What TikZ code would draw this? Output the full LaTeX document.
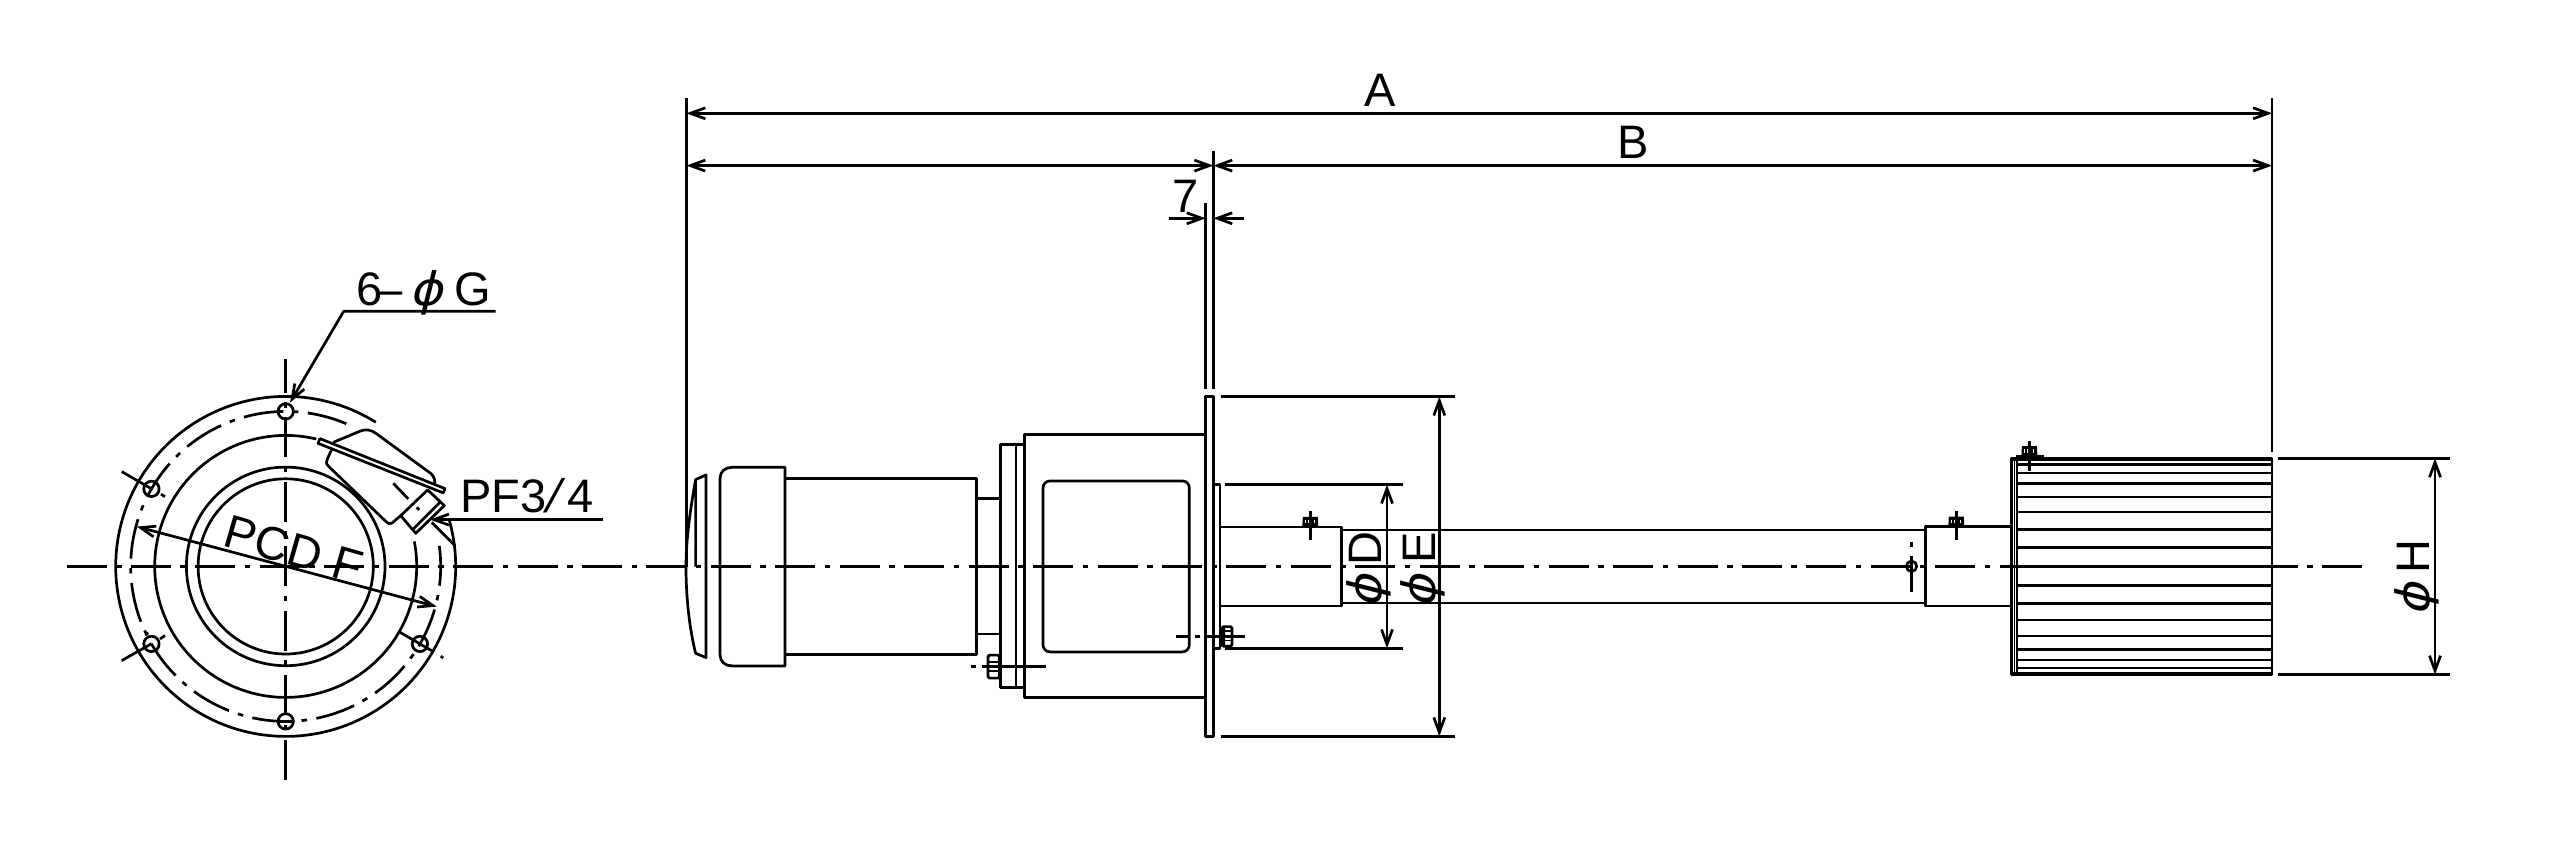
\documentclass[tikz,border=0pt]{standalone}
\usepackage{fontspec}
\usepackage{graphicx}
\setmainfont{Liberation Sans}
\newfontfamily\phifont[FakeSlant=0.25,FakeStretch=1.1]{DejaVu Sans}
\newfontfamily\slashfont[FakeSlant=0.27]{Liberation Sans}
\usetikzlibrary{arrows.meta}
\newcommand{\dia}{{\phifont\fontsize{46bp}{50bp}\selectfont ϕ}}
\newcommand{\arcplot}[3]{plot[domain=#2:#3,samples=240] ({285.7+#1*cos(\x)},{565.8-#1*sin(\x)})}
\newcommand{\knurl}[2]{%
  \fill (#1-8,#2) -- (#1-7.5,#2-10) -- (#1+7.5,#2-10) -- (#1+8,#2) -- cycle;
  \foreach \d in {-4.5,-1.5,1.5,4.5} \draw[white,line width=0.9bp] (#1+\d,#2-7) -- (#1+\d,#2-3.5);
}
\tikzset{
  lbl/.style={inner sep=0pt,font=\fontsize{47bp}{50bp}\selectfont},
  thick line/.style={line width=3.8bp},
  center line/.style={line width=2.7bp,dash pattern=on 40bp off 9.5bp on 5.5bp off 9.44bp},
  dim/.style={line width=2.7bp,<->},
  lead/.style={line width=2.7bp,->}
}
\begin{document}
\begin{tikzpicture}[x=1bp,y=-1bp,line width=2.7bp,line join=round,>={Straight Barb[length=15bp,width=11bp]}]
\useasboundingbox (0,-0.6) rectangle (2550,849.4);
% ---- coordinates
\coordinate (c) at (285.7,565.8);
% ---- centre lines
\draw[center line] (66.5,565.8) -- (2363,565.8);
\draw[center line] (285.7,779) -- (285.7,358);
% ---- front view
\draw \arcplot{170}{16}{-302};
\draw \arcplot{131}{11}{-283.5};
\draw (c) circle[radius=99.3bp];
\draw (c) circle[radius=87.6bp];
\draw[center line] \arcplot{155}{67}{368};
% holes
\foreach \a in {90,150,210,270,330}
  \draw ({285.7+155*cos(\a)},{565.8-155*sin(\a)}) circle[radius=7.7bp];
\draw (278,720.7) -- (293.4,720.7);
\draw (121.7,471) -- (151.7,488.3);
\draw (161,493.6) -- (165,496);
\draw (121.7,660) -- (151.7,643);
\draw (160,638.3) -- (165,635);
\draw (146,631.5) -- (148,634);
\draw (400,631.7) -- (433.3,651);
\draw (440.7,655.7) -- (443.3,657.3);
% plug
\draw (320,438) -- (445,488) -- (443.3,492.3) -- (318,442.7) -- cycle;
\draw (333.3,441.7) -- (359,431) .. controls (366,428) and (371,429) .. (376.7,433.3) -- (431,473) .. controls (434,476) and (435,479) .. (435,482.7);
\draw (331.7,449) -- (327.5,458) .. controls (326,461) and (326,463) .. (328.3,465.5) -- (385,520) .. controls (388,523) and (390,524) .. (392,522.5) -- (400.7,515);
\draw (400.7,515) -- (427.7,489.3) -- (444.3,505) -- (415.7,532.7) -- cycle;
\draw (413.3,528.3) -- (440,501.7);
\draw (393.3,482.7) -- (408.3,498.3);
\draw (416.7,506.7) -- (419.3,509.3);
\draw (431.7,521.7) -- (455,545);
% leaders and front-view labels
\coordinate (g1) at (495.5,310.7);
\coordinate (g2) at (343.7,310.7);
\coordinate (g3) at (290,402);
\draw[lead] (g1) -- (g2) -- (g3);
\node[lbl,anchor=base west] (lblG) at (355.5,305) {6\kern-2bp\scalebox{.85}[1]{–}\kern6bp\dia\kern12bp G};
\coordinate (p1) at (602.7,519);
\coordinate (p2) at (430,519);
\draw[lead] (p1) -- (p2);
\node[lbl,anchor=base west] (lblPF) at (459,511.7) {PF3\kern-3bp{\slashfont/}\kern11bp 4};
\coordinate (f1) at (136.7,526);
\coordinate (f2) at (436.7,606);
\draw[dim] (f1) -- (f2);
\node[lbl,anchor=base west,rotate=-16] (lblF) at (220,545) {PCD F};
% ---- side view: end cover
\draw (695.6,566) -- (695.6,479) .. controls (690,510) and (686,540) .. (686,566) .. controls (686,600) and (690,630) .. (695.6,652.7) -- (706,657) -- (706,474.3) -- (695.6,479);
\draw (695.6,566) -- (700,566);
% cap
\draw (785,466.7) -- (732,466.7) .. controls (725,466.7) and (720,471) .. (720,478) -- (720,654) .. controls (720,661) and (725,665.3) .. (732,665.3) -- (785,665.3) -- cycle;
\draw (785,477.7) rectangle (976.5,654);
\draw (976.5,498) rectangle (1000.6,633.3);
\draw (1000.6,444) rectangle (1024.7,687);
\draw (1016,444) -- (1016,687);
\draw (1024.7,434) rectangle (1205.7,697);
\draw[rounded corners=7bp] (1043,480.3) rectangle (1189.3,651.3);
\draw (1205.7,396) rectangle (1213.3,735.7);
\draw (1213.3,483.7) rectangle (1220,647.7);
\draw (1220,526.3) rectangle (1341.3,605.3);
\draw (1341.3,529.3) -- (1925.6,529.3);
\draw (1341.3,602.3) -- (1925.6,602.3);
\draw (1925.6,526) rectangle (2011.7,605.3);
% bolts
\draw[rounded corners=1.5bp,fill=white] (988,654.5) rectangle (999.5,677.5);
\draw[line width=2bp] (988,661.5) -- (999.5,661.5) (988,670) -- (999.5,670);
\draw (981.5,665.7) -- (1045.8,665.7);
\draw (970.8,665.7) -- (975.7,665.7);
\draw[rounded corners=1.5bp,fill=white] (1222,626) rectangle (1232,645.7);
\fill (1220,628) -- (1225,626) -- (1225,646) -- (1220,646) -- cycle;
\draw[line width=1.6bp] (1225,630.5) -- (1232,630.5) (1225,635) -- (1232,635) (1225,640) -- (1232,640);
\draw (1175.7,635.7) -- (1190,635.7) (1195,635.7) -- (1200,635.7) (1207.3,635.7) -- (1245,635.7);
\knurl{1310.3}{526.3}
\draw (1310.3,510) -- (1310.3,539.3);
\knurl{1956.3}{526}
\draw (1956.3,510) -- (1956.3,539.3);
% small pin on shaft
\draw (1911.5,565.7) circle[radius=5.2bp];
\draw (1911.5,541.7) -- (1911.5,546) (1911.5,555) -- (1911.5,591);
% finned body
\draw (2011.7,457.7) rectangle (2272,674);
\draw (2017,457.7) -- (2017,674);
\foreach \y in {464,472.3,482.7,496.3,511.3,529,547,565.7,584.7,603,619.3,635.3,649,659.3,667.3}
  \draw (2017,\y) -- (2272,\y);
\draw[thick line] (2011.7,458.2) -- (2272,458.2) (2011.7,673.3) -- (2272,673.3);
\draw[line width=1.2bp] (2014.3,458) -- (2014.3,674);
\knurl{2029.4}{455.5}
\fill (2015.6,458) rectangle (2043.5,454.5);
\draw (2029.4,440.7) -- (2029.4,470.7);
% ---- dimensions
\coordinate (aL) at (686.4,97.6);
\coordinate (aR) at (2272,97.6);
\draw (aL) -- (686.4,566);
\draw (aR) -- (2272,451);
\draw[dim] (686.4,112.7) -- (2272,112.7);
\node[lbl,anchor=base] (lblA) at (1380.5,106) {A};
\draw (1213.3,150) -- (1213.3,388);
\draw (1205.7,202.7) -- (1205.7,388);
\draw[dim] (686.4,165) -- (1213.3,165);
\draw[dim] (1213.3,165) -- (2272,165);
\node[lbl,anchor=base] (lblB) at (1632.8,157.7) {B};
\draw[lead] (1169,217.7) -- (1205.7,217.7);
\draw[lead] (1243.7,217.7) -- (1213.3,217.7);
\node[lbl,anchor=base west] (lbl7) at (1171,211.7) {7};
% phi E
\draw (1221,396) -- (1455,396);
\draw (1221,735.7) -- (1455,735.7);
\draw[dim] (1439.3,396) -- (1439.3,735.7);
\node[lbl,anchor=base west,rotate=90] (lblE) at (1435,609) {\dia\kern11bp E};
% phi D
\draw (1225,484) -- (1402.7,484);
\draw (1225,647.7) -- (1402.7,647.7);
\draw[dim] (1387,484) -- (1387,647.7);
\node[lbl,anchor=base west,rotate=90] (lblD) at (1381.7,609) {\dia\kern9bp D};
% phi H
\draw (2278,457.7) -- (2450,457.7);
\draw (2278,674) -- (2450,674);
\draw[dim] (2435,457.7) -- (2435,674);
\node[lbl,anchor=base west,rotate=90] (lblH) at (2429,617) {\dia\kern9bp H};
\end{tikzpicture}
\end{document}
